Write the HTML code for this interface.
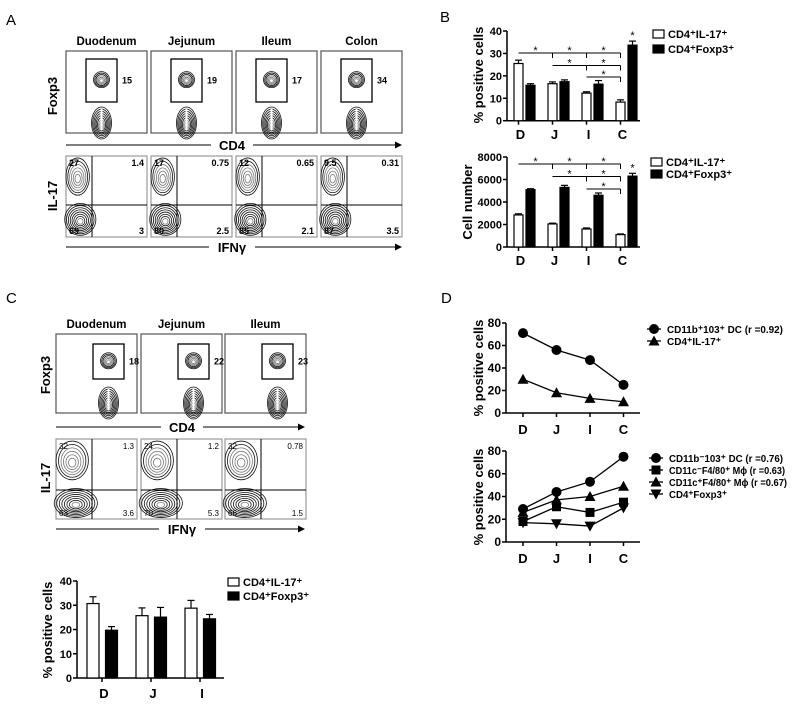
<!DOCTYPE html>
<html><head><meta charset="utf-8">
<style>
html,body{margin:0;padding:0;background:#fff;}
svg{display:block;font-family:"Liberation Sans",Arial,sans-serif;}
</style></head>
<body>
<svg id="fig" width="800" height="705" viewBox="0 0 800 705" xmlns="http://www.w3.org/2000/svg">
<rect x="0" y="0" width="800" height="705" fill="#fff"/>
<text x="6" y="25" font-size="15">A</text>
<text x="440" y="22" font-size="15">B</text>
<text x="6" y="303" font-size="15">C</text>
<text x="441" y="303" font-size="15">D</text>
</svg>
<script>
// ---------- chart data ----------
const bCats = ['D','J','I','C'];
const bPctTicks = [0,10,20,30,40];
const bPctIL17 = [25.5,16.5,12.3,8.3];
const bPctIL17Err = [1.5,0.8,0.6,1.0];
const bPctFoxp3 = [15.8,17.4,16.3,33.7];
const bPctFoxp3Err = [0.7,0.8,1.6,1.8];
const bNumTicks = [0,2000,4000,6000,8000];
const bNumIL17 = [2850,2050,1600,1100];
const bNumIL17Err = [100,70,90,60];
const bNumFoxp3 = [5100,5300,4600,6300];
const bNumFoxp3Err = [80,180,200,250];
const sigRows = [[0,3],[1,3],[2,3]];
const cCats = ['D','J','I'];
const cTicks = [0,10,20,30,40];
const cIL17 = [30.7,25.7,28.8];
const cIL17Err = [2.8,3.2,3.2];
const cFoxp3 = [19.7,25.1,24.4];
const cFoxp3Err = [1.5,4.0,1.8];
const dCats = ['D','J','I','C'];
const dTicks = [0,20,40,60,80];
const dTopDC = [71,56,47,25];
const dTopIL17 = [30,18,13,10];
const dBotDC = [29,44,53,75];
const dBotMacNeg = [18,31,26,35];
const dBotMacPos = [26,37,40,49];
const dBotFoxp3 = [17,16,14,30];
const aTissues = ['Duodenum','Jejunum','Ileum','Colon'];
const aFoxp3Pct = ['15','19','17','34'];
const aQuad = [['27','1.4','69','3'],['17','0.75','80','2.5'],['12','0.65','85','2.1'],['9.5','0.31','87','3.5']];
const cTissues = ['Duodenum','Jejunum','Ileum'];
const cFoxp3Pct = ['18','22','23'];
const cQuad = [['32','1.3','63','3.6'],['24','1.2','70','5.3'],['32','0.78','66','1.5']];

const NS = 'http://www.w3.org/2000/svg';
const svg = document.getElementById('fig');
function mk(tag, attrs, parent){
  const e = document.createElementNS(NS, tag);
  for (const k in attrs) e.setAttribute(k, attrs[k]);
  (parent || svg).appendChild(e);
  return e;
}
function txt(x, y, s, size, anchor, weight, parent){
  const t = mk('text', {x:x, y:y, 'font-size':size, 'text-anchor':anchor||'start', 'font-weight':weight||'bold', fill:'#000'}, parent);
  t.textContent = s;
  return t;
}
function line(x1,y1,x2,y2,w,parent,col){
  return mk('line',{x1:x1,y1:y1,x2:x2,y2:y2,stroke:col||'#000','stroke-width':w||1},parent);
}
function group(){ return mk('g',{}); }

// ---------- flow plots ----------
function blob(g, cx, cy, rx, ry, n, dark){
  for (let k=0;k<n;k++){
    const f = 1 - k/(n+0.5);
    const e = mk('ellipse',{cx:cx, cy:cy + (1-f)*ry*0.15, rx:rx*f, ry:ry*f, fill:'none', stroke: k < n*dark ? '#111' : '#777', 'stroke-width':0.8}, g);
    
    
  }
}
function foxPlot(x, y, w, h, gate, num, title, col){
  const g = group();
  
  
  const r = mk('rect',{x:x,y:y,width:w,height:h,fill:'#fff',stroke:'#555','stroke-width':1.2},g);
  
  
  const t = txt(x+w/2, y-6, title, 11.5, 'middle', 'bold', g);
  
  
  const gr = mk('rect',{x:x+gate[0],y:y+gate[1],width:gate[2],height:gate[3],fill:'none',stroke:'#000','stroke-width':1.3},g);
  
  
  const cx = x+gate[0]+gate[2]/2;
  blob(g, cx, y+gate[1]+gate[3]*0.48, 8, 8, 6, 0.5);
  blob(g, cx, y+h-10, 10, 16, 8, 0.7);
  line(cx, y+h-24, cx, y+h-3, 2, g, '#fff');
  const n = txt(x+gate[0]+gate[2]+5, y+gate[1]+gate[3]/2+3, num, 9, 'start', 'bold', g);
  
  
}
function quadPlot(x, y, w, h, vx, hy, q, col, small){
  const g = group();
  
  
  const r = mk('rect',{x:x,y:y,width:w,height:h,fill:'#fff',stroke:'#999','stroke-width':1.2},g);
  
  
  blob(g, x+vx*0.45, y+(hy)*0.42, vx*0.45, hy*0.38, 6, 0.3);
  blob(g, x+vx*0.55, y+hy+(h-hy)*0.45, vx*0.6, (h-hy)*0.5, 8, 0.8);
  const vl = line(x+vx, y, x+vx, y+h, 1, g);
  
  
  const hl = line(x, y+hy, x+w, y+hy, 1, g);
  
  
  const fs = small ? 8 : 9;
  const pos = [[x+3,y+10,'start'],[x+w-3,y+10,'end'],[x+3,y+h-3,'start'],[x+w-3,y+h-3,'end']];
  for (let i=0;i<4;i++){
    const t = txt(pos[i][0], pos[i][1], q[i], fs, pos[i][2], small?'normal':'bold', g);
    
    
  }
}
function arrowAxis(x1, x2, y, label, tx, tw){
  const g = group();
  
  
  line(x1, y, tx-tw/2-6, y, 1, g);
  line(tx+tw/2+6, y, x2-6, y, 1, g);
  mk('polygon',{points:(x2-7)+','+(y-3.5)+' '+x2+','+y+' '+(x2-7)+','+(y+3.5),fill:'#000'},g);
  txt(tx, y+5, label, 13, 'middle', 'bold', g);
}
function rotLabel(x, y, s, size, name){
  const t = mk('text',{x:x,y:y,'font-size':size,'font-weight':'bold','text-anchor':'middle',transform:'rotate(-90 '+x+' '+y+')'});
  t.textContent = s;
  
  
  return t;
}

// Panel A
const aX = [66,151,236,321];
for (let i=0;i<4;i++){
  foxPlot(aX[i], 51, 81, 82, [20,8,31,43], aFoxp3Pct[i], aTissues[i], i);
  quadPlot(aX[i], 156, 81, 81, 26, 49, aQuad[i], i, false);
}
arrowAxis(66, 402, 145, 'CD4', 232, 30);
arrowAxis(66, 402, 247, 'IFNγ', 232, 34);
rotLabel(57, 96, 'Foxp3', 13, 'foxp3-axis-label');
rotLabel(57, 196, 'IL-17', 13, 'il17-axis-label');

// Panel C
const cX = [56,141,225];
for (let i=0;i<3;i++){
  foxPlot(cX[i], 334, 81, 79, [37,10,31,35], cFoxp3Pct[i], cTissues[i], 'c'+i);
  quadPlot(cX[i], 439, 81, 80, 36, 51, cQuad[i], 'c'+i, true);
}
arrowAxis(56, 305, 427, 'CD4', 182, 30);
arrowAxis(56, 305, 529, 'IFNγ', 182, 34);
rotLabel(50, 375, 'Foxp3', 13, 'c-foxp3-axis-label');
rotLabel(50, 478, 'IL-17', 13, 'c-il17-axis-label');

// ---------- bar charts ----------
function yAxis(g, x, yOf, ticks, fmtSize){
  line(x, yOf(ticks[ticks.length-1]), x, yOf(ticks[0]), 1.5, g);
  for (const t of ticks){
    line(x-4, yOf(t), x, yOf(t), 1.5, g);
    const l = txt(x-5, yOf(t)+4, String(t), fmtSize||11, 'end', 'bold', g);
    
    
  }
}
function barChart(name, cats, s1, e1, s2, e2, ticks, yOf, x0, x1, whiteX, bw, off, labelOff, labelY){
  const g = group();
  
  
  yAxis(g, x0, yOf, ticks);
  const base = yOf(ticks[0]);
  line(x0, base, x1, base, 1.5, g);
  for (let i=0;i<cats.length;i++){
    const wx = whiteX(i);
    line(wx+labelOff, base, wx+labelOff, base+4, 1.5, g);
    const cl = txt(wx+labelOff+2, labelY, cats[i], 13, 'middle', 'bold', g);
    
    
    const series = [[s1,e1,'#fff','il17'],[s2,e2,'#000','foxp3']];
    for (let k=0;k<2;k++){
      const v = series[k][0][i], er = series[k][1][i];
      const cx = wx + k*off;
      const top = yOf(v);
      line(cx, top, cx, yOf(v+er), 1.2, g);
      line(cx-3.5, yOf(v+er), cx+3.5, yOf(v+er), 1.2, g);
      const b = mk('rect',{x:cx-bw/2, y:top, width:bw, height:base-top, fill:series[k][2], stroke:'#000','stroke-width':1.2}, g);
      
      
    }
  }
  return g;
}
function legendBars(x, y, dy, name){
  const g = group();
  
  
  const labs = ['CD4⁺IL-17⁺','CD4⁺Foxp3⁺'];
  for (let k=0;k<2;k++){
    const r = mk('rect',{x:x, y:y+k*dy-5, width:11, height:8, fill:k?'#000':'#fff', stroke:'#000','stroke-width':1.2}, g);
    
    
    const t = txt(x+15, y+k*dy+3, labs[k], 11, 'start', 'bold', g);
    
    
  }
}
function sigBrackets(g, xs, yRows){
  sigRows.forEach((p, r) => {
    const y = yRows[r];
    line(xs(p[0]), y, xs(p[1]), y, 1, g);
    for (let j=p[0]+1;j<=p[1];j++) line(xs(j), y, xs(j), y+5, 1, g);
    for (let j=p[0];j<p[1];j++){
      const s = txt((xs(j)+xs(j+1))/2, y+1, '*', 11, 'middle', 'normal', g);
      
      
    }
  });
}
const bWhite = i => 518.5 + i*34;
const yB1 = v => 120.7 - v*(89.7/40);
const yB2 = v => 247 - v*(90/8000);
const gB1 = barChart('chart-b-percent', bCats, bPctIL17, bPctIL17Err, bPctFoxp3, bPctFoxp3Err, bPctTicks, yB1, 507, 640, bWhite, 9, 12, 0, 139);
sigBrackets(gB1, bWhite, [53,65.5,77]);
const st1 = txt(bWhite(3)+12, yB1(bPctFoxp3[3]+bPctFoxp3Err[3])-2, '*', 11, 'middle', 'normal', gB1);


const gB2 = barChart('chart-b-cellnumber', bCats, bNumIL17, bNumIL17Err, bNumFoxp3, bNumFoxp3Err, bNumTicks, yB2, 507, 640, bWhite, 9, 12, 0, 265);
sigBrackets(gB2, bWhite, [164,176.5,189]);
const st2 = txt(bWhite(3)+12, yB2(bNumFoxp3[3]+bNumFoxp3Err[3])-2, '*', 11, 'middle', 'normal', gB2);


rotLabel(483, 75, '% positive cells', 13, 'b-y-axis-title-percent');
rotLabel(472, 202, 'Cell number', 13, 'b-y-axis-title-number');
legendBars(653, 35, 15, 'legend-b-top');
legendBars(651, 163, 12, 'legend-b-bottom');

const cWhite = i => 93 + i*49;
const yC = v => 678 - v*(97/40);
barChart('chart-c-percent', cCats, cIL17, cIL17Err, cFoxp3, cFoxp3Err, cTicks, yC, 77, 224, cWhite, 12, 18.5, 9, 698);
rotLabel(52, 630, '% positive cells', 13, 'c-y-axis-title');
legendBars(228, 583, 14, 'legend-c');

// ---------- line charts (D) ----------
function marker(g, type, x, y){
  let e;
  if (type==='circle') e = mk('circle',{cx:x,cy:y,r:5,fill:'#000'},g);
  else if (type==='square') e = mk('rect',{x:x-4.5,y:y-4.5,width:9,height:9,fill:'#000'},g);
  else if (type==='tri') e = mk('polygon',{points:(x-5.5)+','+(y+4.5)+' '+(x+5.5)+','+(y+4.5)+' '+x+','+(y-5.5),fill:'#000'},g);
  else e = mk('polygon',{points:(x-5.5)+','+(y-4.5)+' '+(x+5.5)+','+(y-4.5)+' '+x+','+(y+5.5),fill:'#000'},g);
  return e;
}
const dX = i => 523 + i*33.5;
function lineChart(name, yOf, series, types){
  const g = group();
  
  
  yAxis(g, 506, yOf, dTicks, 12);
  const base = yOf(0);
  line(506, base, 640, base, 1.5, g);
  for (let i=0;i<dCats.length;i++){
    line(dX(i), base, dX(i), base+4, 1.5, g);
    const l = txt(dX(i), base+21, dCats[i], 13, 'middle', 'bold', g);
    
    
  }
  series.forEach((s, k) => {
    const pts = s.map((v,i) => dX(i)+','+yOf(v)).join(' ');
    const pl = mk('polyline',{points:pts, fill:'none', stroke:'#000','stroke-width':1.3}, g);
    
    
    s.forEach((v,i) => {
      const m = marker(g, types[k], dX(i), yOf(v));
      
      
    });
  });
}
const yD1 = v => 413 - v*(90/80);
const yD2 = v => 542 - v*(91/80);
lineChart('chart-d-top', yD1, [dTopDC, dTopIL17], ['circle','tri']);
lineChart('chart-d-bottom', yD2, [dBotDC, dBotMacNeg, dBotMacPos, dBotFoxp3], ['circle','square','tri','invtri']);
rotLabel(483, 368, '% positive cells', 13, 'd-y-axis-title-top');
rotLabel(483, 497, '% positive cells', 13, 'd-y-axis-title-bottom');
function legendLines(x, y, dy, types, labs, widths, name){
  const g = group();
  
  
  types.forEach((t,k) => {
    line(x-7, y+k*dy, x+7, y+k*dy, 1.3, g);
    const m = marker(g, t, x, y+k*dy);
    
    
    const tt = txt(x+13, y+k*dy+4, labs[k], 10.5, 'start', 'bold', g);
    tt.setAttribute('textLength', widths[k]);
    tt.setAttribute('lengthAdjust', 'spacingAndGlyphs');
    
    
  });
}
legendLines(654, 329, 12, ['circle','tri'], ['CD11b⁺103⁺ DC (r =0.92)','CD4⁺IL-17⁺'], [116, 54], 'legend-d-top');
legendLines(656, 458, 12, ['circle','square','tri','invtri'], ['CD11b⁻103⁺ DC (r =0.76)','CD11c⁻F4/80⁺ Mϕ (r =0.63)','CD11c⁺F4/80⁺ Mϕ (r =0.67)','CD4⁺Foxp3⁺'], [114, 116, 118, 58], 'legend-d-bottom');
</script>
</body></html>
